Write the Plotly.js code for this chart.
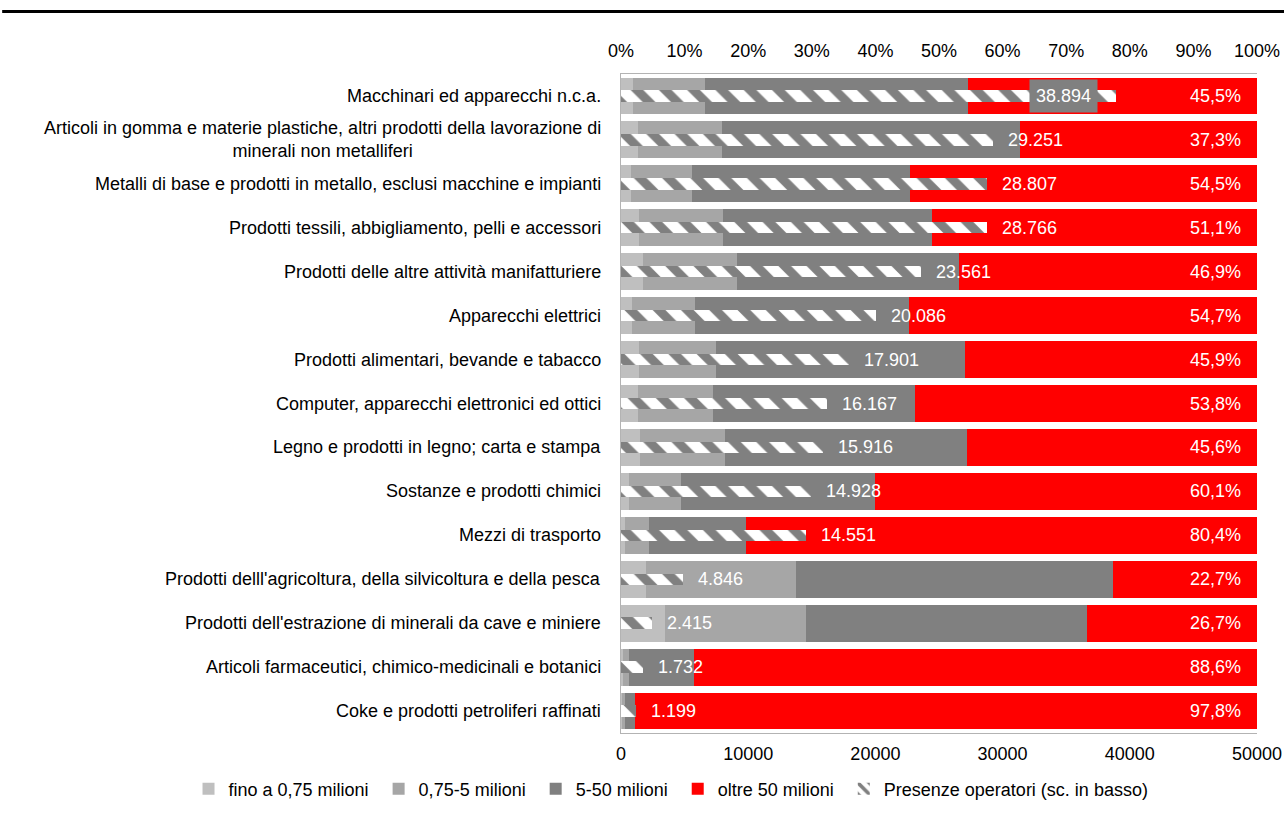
<!DOCTYPE html>
<html>
<head>
<meta charset="utf-8">
<script src="https://cdn.plot.ly/plotly-3.0.1.min.js"></script>
<style>html,body{margin:0;padding:0;background:#fff;}#chart{width:1284px;height:814px;}</style>
</head>
<body>
<div id="chart"></div>
<script>
const categories = [
  "Macchinari ed apparecchi n.c.a.",
  "Articoli in gomma e materie plastiche, altri prodotti della lavorazione di<br>minerali non metalliferi",
  "Metalli di base e prodotti in metallo, esclusi macchine e impianti",
  "Prodotti tessili, abbigliamento, pelli e accessori",
  "Prodotti delle altre attività manifatturiere",
  "Apparecchi elettrici",
  "Prodotti alimentari, bevande e tabacco",
  "Computer, apparecchi elettronici ed ottici",
  "Legno e prodotti in legno; carta e stampa",
  "Sostanze e prodotti chimici",
  "Mezzi di trasporto",
  "Prodotti delll'agricoltura, della silvicoltura e della pesca",
  "Prodotti dell'estrazione di minerali da cave e miniere",
  "Articoli farmaceutici, chimico-medicinali e botanici",
  "Coke e prodotti petroliferi raffinati"
];
const fino075 = [1.9, 2.6, 1.5, 2.8, 3.5, 1.7, 2.8, 2.6, 3.0, 1.3, 0.6, 3.9, 6.9, 0.3, 0.1];
const da075a5 = [11.3, 13.3, 9.7, 13.2, 14.7, 9.9, 12.1, 11.9, 13.3, 8.1, 3.8, 23.6, 22.2, 1.0, 0.5];
const da5a50 = [41.3, 46.8, 34.3, 32.9, 34.9, 33.7, 39.2, 31.7, 38.1, 30.5, 15.2, 49.8, 44.2, 10.1, 1.6];
const oltre50 = [45.5, 37.3, 54.5, 51.1, 46.9, 54.7, 45.9, 53.8, 45.6, 60.1, 80.4, 22.7, 26.7, 88.6, 97.8];
const operatori = [38894, 29251, 28807, 28766, 23561, 20086, 17901, 16167, 15916, 14928, 14551, 4846, 2415, 1732, 1199];
const seriesNames = ["fino a 0,75 milioni", "0,75-5 milioni", "5-50 milioni", "oltre 50 milioni", "Presenze operatori (sc. in basso)"];
const pctTicks = [0, 10, 20, 30, 40, 50, 60, 70, 80, 90, 100];
const opTicks = [0, 10000, 20000, 30000, 40000, 50000];

const FONT = "Liberation Sans, Arial, sans-serif";
const FS = 18;
const fmtIt = v => String(v).replace(/\B(?=(\d{3})+(?!\d))/g, ".");
const fmtPct = v => v.toFixed(1).replace(".", ",") + "%";
const NB = "\u00A0";

function stackTrace(vals, name, color) {
  return {
    type: "bar", orientation: "h", x: vals, y: categories, name: name + NB,
    xaxis: "x", yaxis: "y",
    marker: {color: color, line: {width: 0}},
    hoverinfo: "skip"
  };
}

const data = [
  stackTrace(fino075, seriesNames[0], "#bfbfbf"),
  stackTrace(da075a5, seriesNames[1], "#a6a6a6"),
  stackTrace(da5a50, seriesNames[2], "#808080"),
  stackTrace(oltre50, seriesNames[3], "#ff0000"),
  {
    type: "bar", orientation: "h", x: operatori, y: categories, name: seriesNames[4],
    xaxis: "x2", yaxis: "y", width: 0.26,
    marker: {color: "#ffffff", line: {width: 0},
      pattern: {shape: "\\", fgcolor: "#808080", bgcolor: "#ffffff", size: 20, solidity: 0.45}},
    hoverinfo: "skip"
  }
];

const annotations = [];
categories.forEach((c, i) => {
  annotations.push({
    xref: "paper", yref: "y", x: -0.0283, y: c, text: c, showarrow: false,
    xanchor: "right", yanchor: "middle", align: "center",
    font: {family: FONT, size: FS, color: "#000"}
  });
  annotations.push({
    xref: "x", yref: "y", x: 100, y: c, text: fmtPct(oltre50[i]), showarrow: false,
    xanchor: "right", yanchor: "middle", xshift: -14,
    font: {family: FONT, size: FS, color: "#ffffff"}
  });
  if (i === 0) {
    annotations.push({
      xref: "x2", yref: "y", x: operatori[i], y: c, text: fmtIt(operatori[i]), showarrow: false,
      xanchor: "right", yanchor: "middle", xshift: -18,
      bgcolor: "#808080", borderpad: 6,
      font: {family: FONT, size: FS, color: "#ffffff"}
    });
  } else {
    annotations.push({
      xref: "x2", yref: "y", x: operatori[i], y: c, text: fmtIt(operatori[i]), showarrow: false,
      xanchor: "left", yanchor: "middle", xshift: 13,
      font: {family: FONT, size: FS, color: "#ffffff"}
    });
  }
});

const layout = {
  width: 1284, height: 814,
  margin: {l: 621, r: 27, t: 74, b: 81, pad: 0, autoexpand: false},
  paper_bgcolor: "#ffffff", plot_bgcolor: "#ffffff",
  font: {family: FONT, size: FS, color: "#000"},
  barmode: "stack", bargap: 0.16,
  showlegend: true,
  legend: {orientation: "h", x: -0.68, xanchor: "left", y: -0.085, yanchor: "middle",
    font: {family: FONT, size: FS, color: "#000"}, traceorder: "normal"},
  xaxis: {
    side: "top", range: [0, 100], tickvals: pctTicks, ticktext: pctTicks.map(v => v + "%"),
    showgrid: false, zeroline: false, showline: true, linecolor: "#b3b3b3", linewidth: 1,
    ticks: "outside", ticklen: 9, tickcolor: "rgba(0,0,0,0)",
    tickfont: {family: FONT, size: FS, color: "#000"}, fixedrange: true
  },
  xaxis2: {
    overlaying: "x", side: "bottom", anchor: "y", range: [0, 50000], tickvals: opTicks,
    ticktext: opTicks.map(v => String(v)),
    showgrid: false, zeroline: false, showline: true, linecolor: "#b3b3b3", linewidth: 1,
    ticks: "outside", ticklen: 4, tickcolor: "rgba(0,0,0,0)",
    tickfont: {family: FONT, size: FS, color: "#000"}, fixedrange: true
  },
  yaxis: {
    type: "category", categoryorder: "array", categoryarray: categories, autorange: "reversed",
    showticklabels: false, showgrid: false, zeroline: false, showline: true,
    linecolor: "#b3b3b3", linewidth: 1, ticks: "", fixedrange: true
  },
  shapes: [{
    type: "line", xref: "paper", yref: "paper", x0: -0.973, x1: 1.0425, y0: 1.0949, y1: 1.0949,
    line: {color: "#000000", width: 3}
  }],
  annotations: annotations
};

Plotly.newPlot("chart", data, layout, {displayModeBar: false, staticPlot: true});
</script>
</body>
</html>
